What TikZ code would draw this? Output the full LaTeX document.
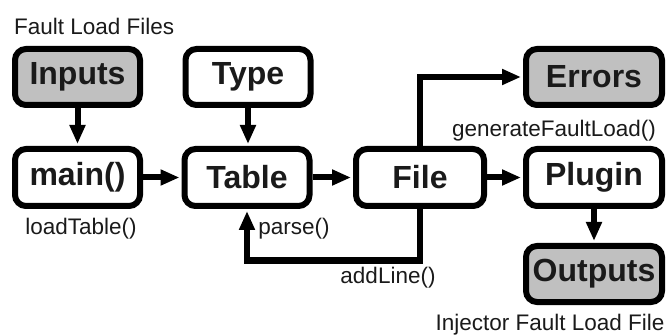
\documentclass[tikz,border=0pt]{standalone}
\usepackage{fontspec}
\setmainfont{Liberation Sans}
\usetikzlibrary{arrows.meta}
\definecolor{boxgray}{HTML}{C0C0C0}
\definecolor{ink}{HTML}{1A1A1A}
\tikzset{
  block/.style={draw=black, line width=6pt, rounded corners=11pt, fill=white,
    inner sep=0pt, minimum height=56pt, text=ink,
    font=\fontsize{32}{36}\selectfont\bfseries},
  narrow/.style={block, minimum width=125pt},
  wide/.style={block, minimum width=136pt},
  shaded/.style={fill=boxgray},
  note/.style={inner sep=0pt, anchor=base, text=ink, font=\fontsize{22.5}{26}\selectfont},
  flow/.style={draw=black, line width=6pt, -{Triangle[length=19pt,width=15pt]},
    shorten >=2pt},
}
\begin{document}
\begin{tikzpicture}[x=1pt, y=-1pt]
\useasboundingbox (0,0) rectangle (668,336);

% boxes
\node[narrow, shaded] (inputs) at (77.5,77) {Inputs};
\node[narrow] (type) at (248,77) {Type};
\node[narrow, minimum height=57pt] (main) at (77.5,177.5) {main()};
\node[narrow, minimum height=57pt] (table) at (247,177.5) {Table};
\node[block, minimum width=128pt, minimum height=57pt] (file) at (420,177.5) {File};
\node[wide, shaded] (errors) at (594,77) {Errors};
\node[wide, minimum height=57pt] (plugin) at (594,177.5) {Plugin};
\node[wide, shaded] (outputs) at (594,274) {Outputs};

% labels
\node[note, anchor=base west] (lblin) at (14,35) {Fault Load Files};
\node[note] (lblgen) at (554,137) {generateFaultLoad()};
\node[note] (lblload) at (81,235) {loadTable()};
\node[note] (lblparse) at (294,235) {parse()};
\node[note] (lbladd) at (388,283) {addLine()};
\node[note] (lblout) at (550,330) {Injector Fault Load File};

% connectors
\draw[flow] (inputs) -- (main);
\draw[flow] (type) -- (table.north -| type);
\draw[flow] (main) -- (table);
\draw[flow] (table) -- (file);
\draw[flow] (file) -- (plugin);
\draw[flow] (plugin) -- (outputs);
\draw[flow] (file.north) |- (errors.west);
\coordinate (loopcorner) at (247,260.5);
\draw[flow] (file.south) |- (loopcorner) -- (table.south);
\end{tikzpicture}
\end{document}
